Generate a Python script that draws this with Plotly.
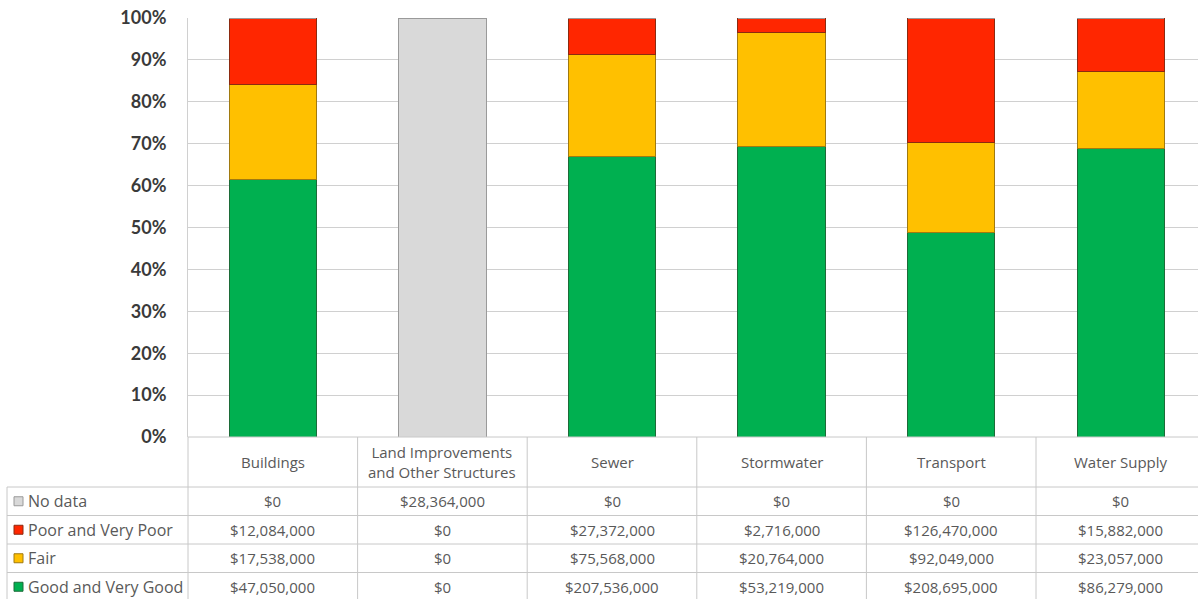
import plotly.graph_objects as go

categories = ["Buildings", "Land Improvements<br>and Other Structures", "Sewer",
              "Stormwater", "Transport", "Water Supply"]
series_names = ["No data", "Poor and Very Poor", "Fair", "Good and Very Good"]
no_data = [0, 28364000, 0, 0, 0, 0]
poor = [12084000, 0, 27372000, 2716000, 126470000, 15882000]
fair = [17538000, 0, 75568000, 20764000, 92049000, 23057000]
good = [47050000, 0, 207536000, 53219000, 208695000, 86279000]
y_ticks = [0, 10, 20, 30, 40, 50, 60, 70, 80, 90, 100]

colors = {"No data": "#D9D9D9", "Poor and Very Poor": "#FF2600",
          "Fair": "#FFC000", "Good and Very Good": "#00B050"}
edges = {"No data": "#9A9A9A", "Poor and Very Poor": "#8C2A10",
         "Fair": "#A07A10", "Good and Very Good": "#1C6B38"}
values = {"No data": no_data, "Poor and Very Poor": poor,
          "Fair": fair, "Good and Very Good": good}

# layout geometry (pixels)
W, H = 1198, 599
L, T, BOT = 188, 18, 437
CAT_W = 169.6
plot_w = W - L
plot_h = BOT - T
xmin = -0.5
xmax = -0.5 + plot_w / CAT_W

def px_x(px):
    return (px - L) / plot_w

def px_y(py):
    return (BOT - py) / plot_h

def dx(v):
    return (v - xmin) / (xmax - xmin)

fig = go.Figure()
idx = list(range(len(categories)))
for name in ["Good and Very Good", "Fair", "Poor and Very Poor", "No data"]:
    fig.add_trace(go.Bar(
        x=idx, y=values[name], name=name,
        marker=dict(color=colors[name], line=dict(color=edges[name], width=1)),
        width=0.515, hoverinfo="skip", showlegend=False))

FONT = "Open Sans"
TXT = "#595959"
FS = 15
shapes = []
annotations = []
GRID = "#C8C8C8"

# table geometry
hdr_top, hdr_bot = BOT, 487
row_h = 28.5
row_edges = [hdr_bot + i * row_h for i in range(len(series_names) + 1)]
left_px = 7

# top border of table (category axis line)
shapes.append(dict(type="line", xref="paper", yref="paper",
                   x0=0, x1=1.0, y0=0, y1=0,
                   line=dict(color=GRID, width=1)))
# horizontal table lines
for i, ry in enumerate(row_edges):
    shapes.append(dict(type="line", xref="paper", yref="paper",
                       x0=px_x(left_px), x1=1.0, y0=px_y(ry), y1=px_y(ry),
                       line=dict(color=GRID, width=1)))
# vertical table lines
for k in range(len(categories) + 1):
    xv = dx(k - 0.5)
    if xv > 1.0:
        continue
    shapes.append(dict(type="line", xref="paper", yref="paper",
                       x0=xv, x1=xv, y0=px_y(hdr_top), y1=px_y(row_edges[-1]),
                       line=dict(color=GRID, width=1)))
shapes.append(dict(type="line", xref="paper", yref="paper",
                   x0=px_x(left_px), x1=px_x(left_px),
                   y0=px_y(row_edges[0]), y1=px_y(row_edges[-1]),
                   line=dict(color=GRID, width=1)))

# category header text
for i, c in enumerate(categories):
    annotations.append(dict(xref="paper", yref="paper", x=dx(i),
                            y=px_y((hdr_top + hdr_bot) / 2), text=c,
                            showarrow=False, xanchor="center", yanchor="middle",
                            font=dict(family=FONT, size=FS, color=TXT)))

# data rows
def fmt(v):
    return "${:,}".format(v)

for r, name in enumerate(series_names):
    cy = (row_edges[r] + row_edges[r + 1]) / 2
    # legend key
    shapes.append(dict(type="rect", xref="paper", yref="paper",
                       x0=px_x(14), x1=px_x(23), y0=px_y(cy - 4.5), y1=px_y(cy + 4.5),
                       fillcolor=colors[name], line=dict(color=edges[name], width=1)))
    annotations.append(dict(xref="paper", yref="paper", x=px_x(26),
                            y=px_y(cy), text=name, showarrow=False,
                            xanchor="left", yanchor="middle",
                            font=dict(family=FONT, size=16, color=TXT)))
    for i, v in enumerate(values[name]):
        annotations.append(dict(xref="paper", yref="paper", x=dx(i),
                                y=px_y(cy), text=fmt(v), showarrow=False,
                                xanchor="center", yanchor="middle",
                                font=dict(family=FONT, size=FS, color=TXT)))

fig.update_layout(
    width=W, height=H,
    margin=dict(l=L, r=0, t=T, b=H - BOT, pad=0),
    barmode="stack", barnorm="percent",
    plot_bgcolor="white", paper_bgcolor="white",
    shapes=shapes, annotations=annotations,
    showlegend=False,
    xaxis=dict(range=[xmin, xmax], showticklabels=False, showgrid=False,
               zeroline=False, showline=False, fixedrange=True),
    yaxis=dict(range=[0, 100], tickvals=y_ticks,
               ticktext=[f"{t}%" for t in y_ticks],
               showgrid=True, gridcolor="#D0D0D0", gridwidth=1,
               zeroline=False, showline=True, linecolor="#D0D0D0", linewidth=1,
               ticks="", ticklabelstandoff=17,
               tickfont=dict(family="Lato", size=18, color="#3A3A3A", weight="bold"),
               fixedrange=True),
)

fig.write_html("out.html", config={"displayModeBar": False})
